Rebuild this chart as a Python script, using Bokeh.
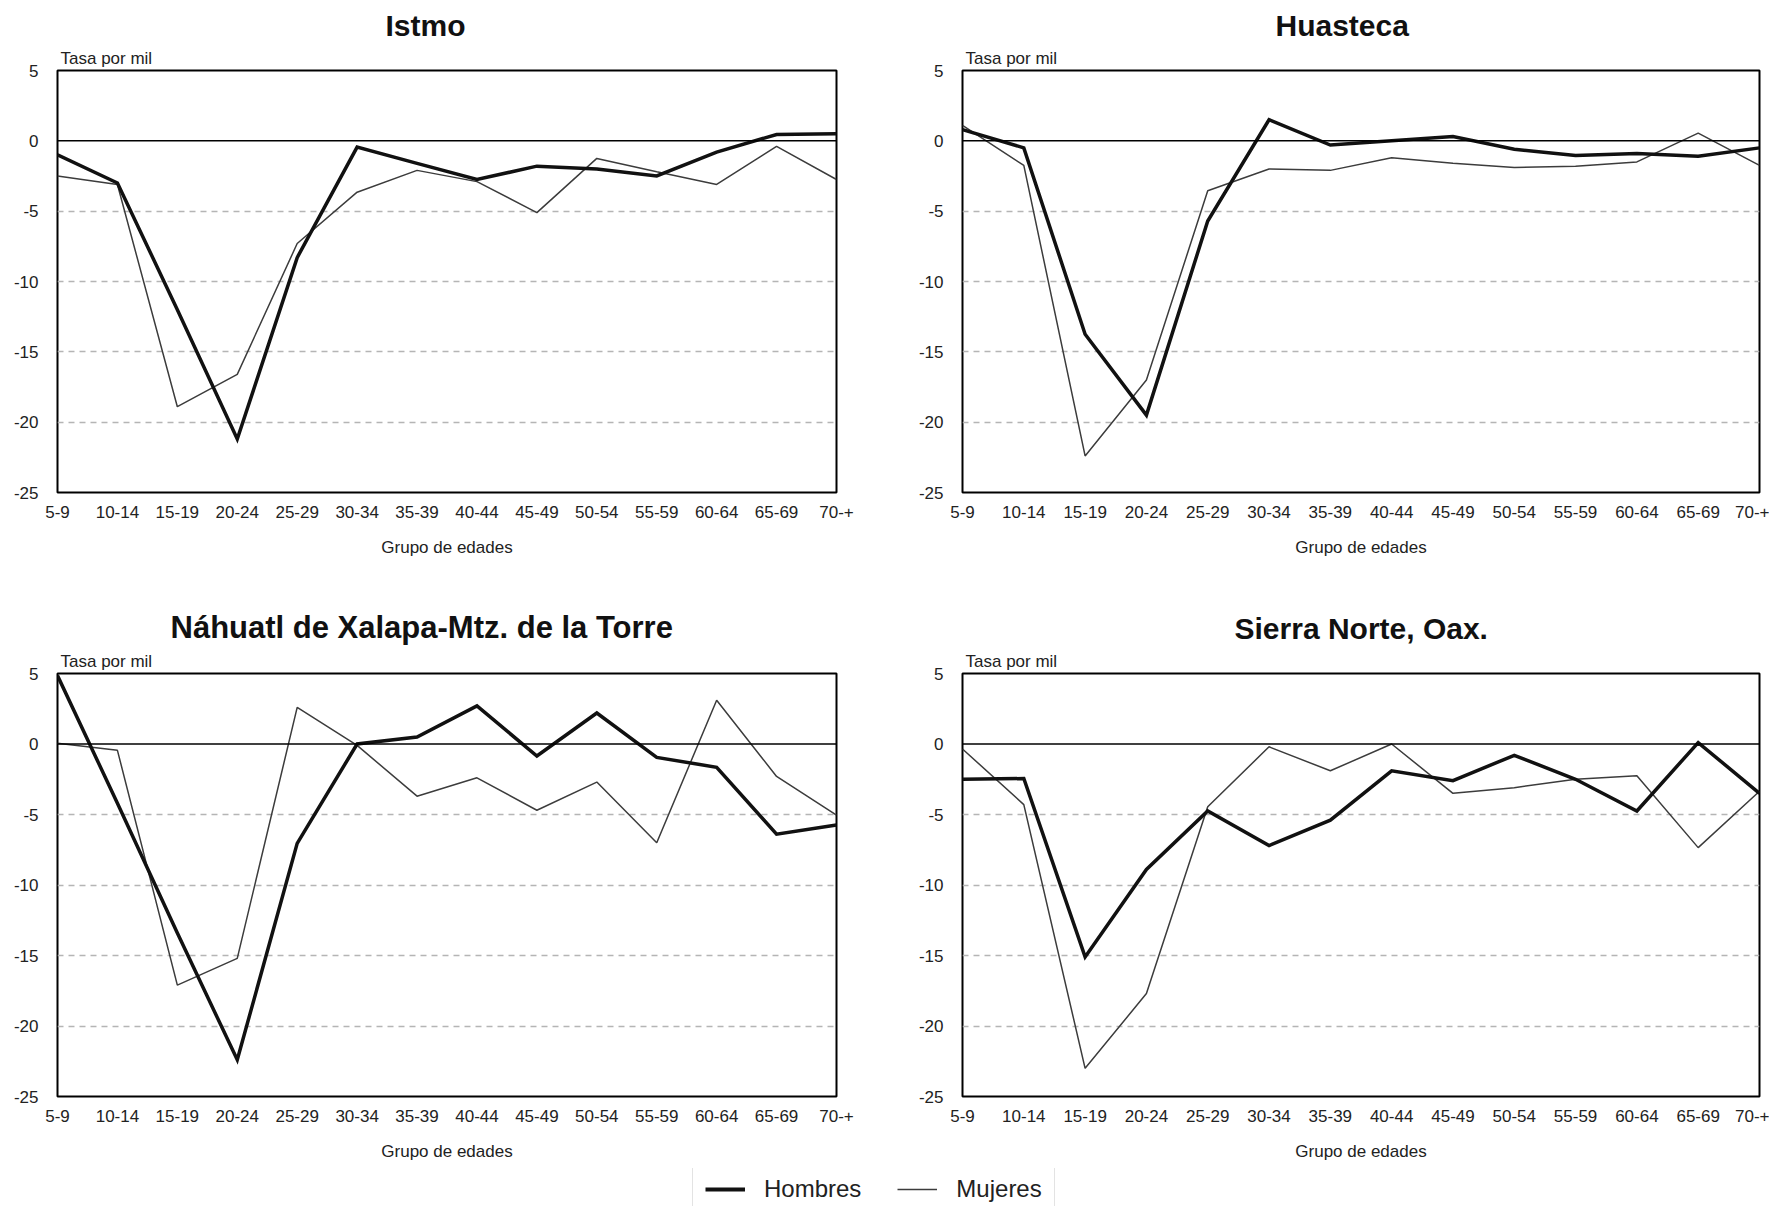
from bokeh.plotting import figure
from bokeh.layouts import column, row
from bokeh.models import Range1d, FixedTicker, Span, Legend, LegendItem, Title
from bokeh.embed import file_html
from bokeh.resources import INLINE

groups = ["5-9", "10-14", "15-19", "20-24", "25-29", "30-34", "35-39",
          "40-44", "45-49", "50-54", "55-59", "60-64", "65-69", "70-+"]

istmo_hombres = [-1.0, -3.0, -12.0, -21.2, -8.3, -0.45, -1.6, -2.75, -1.8, -2.0, -2.5, -0.8, 0.45, 0.5]
istmo_mujeres = [-2.5, -3.1, -18.9, -16.6, -7.3, -3.65, -2.1, -2.9, -5.1, -1.25, -2.2, -3.1, -0.4, -2.75]

huasteca_hombres = [0.8, -0.5, -13.75, -19.5, -5.7, 1.5, -0.3, 0.0, 0.3, -0.6, -1.05, -0.9, -1.1, -0.5]
huasteca_mujeres = [1.1, -1.75, -22.4, -17.0, -3.55, -2.0, -2.1, -1.2, -1.6, -1.9, -1.8, -1.5, 0.55, -1.75]

nahuatl_hombres = [4.85, -4.2, -13.4, -22.4, -7.05, 0.0, 0.5, 2.7, -0.85, 2.2, -0.95, -1.65, -6.4, -5.75]
nahuatl_mujeres = [0.05, -0.45, -17.1, -15.2, 2.6, -0.1, -3.7, -2.4, -4.7, -2.7, -7.0, 3.1, -2.3, -5.05]

sierra_hombres = [-2.5, -2.45, -15.1, -8.9, -4.75, -7.2, -5.4, -1.9, -2.6, -0.8, -2.5, -4.75, 0.1, -3.5]
sierra_mujeres = [-0.35, -4.3, -23.0, -17.7, -4.45, -0.2, -1.9, 0.0, -3.5, -3.1, -2.5, -2.25, -7.35, -3.35]

y_ticks = [-25, -20, -15, -10, -5, 0, 5]
grid_ticks = [-20, -15, -10, -5]

FONT = "Liberation Sans"
TEXT = "#222222"
H_COLOR = "#111111"
M_COLOR = "#3c3c3c"


def make_panel(title, title_offset, title_size, hombres, mujeres, width, height, bl, br, bt, bb):
    x = list(range(len(groups)))
    p = figure(width=width, height=height,
               x_range=Range1d(0, len(groups) - 1), y_range=Range1d(-25, 5),
               output_backend="svg", toolbar_location=None,
               min_border_left=bl, min_border_right=br,
               min_border_top=bt, min_border_bottom=bb)
    p.background_fill_color = "white"
    p.border_fill_color = "white"
    p.outline_line_color = "black"
    p.outline_line_width = 2

    p.xgrid.visible = False
    p.ygrid.ticker = FixedTicker(ticks=grid_ticks)
    p.ygrid.grid_line_color = "#b5b5b5"
    p.ygrid.grid_line_dash = "6 5"
    p.ygrid.grid_line_width = 1.5

    p.yaxis.ticker = FixedTicker(ticks=y_ticks)
    p.yaxis.major_label_overrides = {t: str(t) for t in y_ticks}
    p.xaxis.ticker = FixedTicker(ticks=x)
    p.xaxis.major_label_overrides = {i: g for i, g in enumerate(groups)}
    for ax in (p.xaxis[0], p.yaxis[0]):
        ax.axis_line_color = None
        ax.major_tick_line_color = None
        ax.minor_tick_line_color = None
        ax.major_tick_out = 0
        ax.major_tick_in = 0
        ax.major_label_text_font = FONT
        ax.major_label_text_font_size = "17px"
        ax.major_label_text_color = TEXT
    p.yaxis.major_label_standoff = 19
    p.xaxis.major_label_standoff = 13
    p.xaxis.axis_label = "Grupo de edades"
    p.xaxis.axis_label_text_font = FONT
    p.xaxis.axis_label_text_font_size = "17px"
    p.xaxis.axis_label_text_font_style = "normal"
    p.xaxis.axis_label_text_color = TEXT
    p.xaxis.axis_label_standoff = 17

    p.add_layout(Span(location=0, dimension="width", line_color="black", line_width=1.5))

    p.line(x, mujeres, line_width=1.5, line_color=M_COLOR)
    p.line(x, hombres, line_width=3.5, line_color=H_COLOR, line_join="miter")

    p.add_layout(Title(text="Tasa por mil", align="left", offset=3, standoff=6,
                       text_font=FONT, text_font_size="17px", text_font_style="normal",
                       text_color=TEXT), "above")
    p.title.text = title
    p.title.align = "left"
    p.title.offset = title_offset
    p.title.standoff = 4
    p.title.text_font = FONT
    p.title.text_font_size = title_size
    p.title.text_font_style = "bold"
    p.title.text_color = "#111111"
    return p


p1 = make_panel("Istmo", 328, "30px", istmo_hombres, istmo_mujeres, 880, 600, 57, 44, 70, 108)
p2 = make_panel("Huasteca", 313, "30px", huasteca_hombres, huasteca_mujeres, 889, 600, 82, 10, 70, 108)
p3 = make_panel("Náhuatl de Xalapa-Mtz. de la Torre", 113, "31px", nahuatl_hombres, nahuatl_mujeres,
                880, 568, 57, 44, 73, 72)
p4 = make_panel("Sierra Norte, Oax.", 272, "30px", sierra_hombres, sierra_mujeres,
                889, 568, 82, 10, 73, 72)

lf = figure(width=1769, height=38, output_backend="svg", toolbar_location=None,
            x_range=Range1d(0, 1), y_range=Range1d(0, 1), min_border=0)
lf.axis.visible = False
lf.grid.visible = False
lf.outline_line_color = None
lf.background_fill_color = "white"
lf.border_fill_color = "white"
r1 = lf.line(x=[2, 3], y=[2, 2], line_width=4, line_color=H_COLOR)
r2 = lf.line(x=[2, 3], y=[2, 2], line_width=1.5, line_color=M_COLOR)
legend = Legend(items=[LegendItem(label="Hombres", renderers=[r1]),
                       LegendItem(label="Mujeres", renderers=[r2])],
                orientation="horizontal", location=(692, -10), margin=0,
                padding=12, spacing=36, glyph_width=40, glyph_height=24,
                label_height=24, label_standoff=19,
                label_text_font=FONT, label_text_font_size="24px",
                label_text_color=TEXT,
                border_line_color="#c8c8c8", border_line_width=1.5,
                background_fill_color="white")
lf.add_layout(legend)

layout = column(row(p1, p2), row(p3, p4), lf)

open("out.html", "w").write(file_html(layout, INLINE))
